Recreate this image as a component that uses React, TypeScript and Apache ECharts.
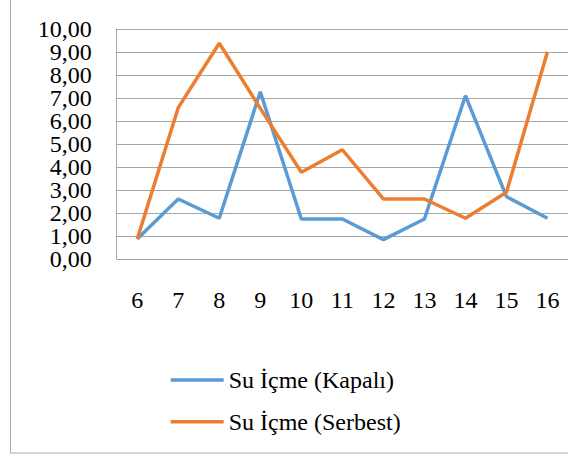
import React, { useEffect, useRef } from "react";
import * as echarts from "echarts";

const categories = ["6", "7", "8", "9", "10", "11", "12", "13", "14", "15", "16"];
const kapali = [0.87, 2.61, 1.77, 7.27, 1.74, 1.74, 0.84, 1.74, 7.1, 2.71, 1.77];
const serbest = [0.87, 6.58, 9.38, 6.55, 3.77, 4.75, 2.61, 2.61, 1.77, 2.9, 9.01];
const seriesNames = ["Su İçme (Kapalı)", "Su İçme (Serbest)"];
const yTicks = [0, 1, 2, 3, 4, 5, 6, 7, 8, 9, 10];
const yTickLabels = ["0,00", "1,00", "2,00", "3,00", "4,00", "5,00", "6,00", "7,00", "8,00", "9,00", "10,00"];

export default function App() {
  const ref = useRef<HTMLDivElement>(null);
  useEffect(() => {
    if (!ref.current) return;
    const chart = echarts.init(ref.current, null, { renderer: "svg" });
    const font = "Liberation Serif";
    const gridLeft = 116.7;
    const border = {
      id: "border",
      type: "rect",
      shape: { x: 10.5, y: -10, width: 600, height: 463 },
      style: { fill: "none", stroke: "#A6A6A6", lineWidth: 1 },
      silent: true,
    };
    chart.setOption({
      animation: false,
      backgroundColor: "#ffffff",
      graphic: [border],
      grid: { left: gridLeft, top: 29, width: 457.6, bottom: 198 },
      xAxis: {
        type: "category",
        data: categories,
        boundaryGap: true,
        axisLine: { show: false },
        axisTick: { show: false },
        axisLabel: { color: "#000", fontFamily: font, fontSize: 24, margin: 29, interval: 0 },
      },
      yAxis: {
        type: "value",
        min: yTicks[0],
        max: yTicks[yTicks.length - 1],
        interval: 1,
        axisLine: { show: true, lineStyle: { color: "#A6A6A6", width: 1 } },
        axisTick: { show: false },
        splitLine: { lineStyle: { color: "#A6A6A6", width: 1 } },
        axisLabel: { show: false },
      },
      legend: {
        orient: "vertical",
        left: 170.7,
        top: 368,
        padding: 0,
        icon: "rect",
        itemWidth: 53,
        itemHeight: 3.5,
        itemGap: 17.7,
        textStyle: { color: "#000", fontFamily: font, fontSize: 24 },
        data: seriesNames,
      },
      series: [
        {
          name: seriesNames[0],
          type: "line",
          data: kapali,
          showSymbol: false,
          symbol: "none",
          itemStyle: { color: "#5B9BD5" },
          lineStyle: { color: "#5B9BD5", width: 3.5 },
        },
        {
          name: seriesNames[1],
          type: "line",
          data: serbest,
          showSymbol: false,
          symbol: "none",
          itemStyle: { color: "#ED7D31" },
          lineStyle: { color: "#ED7D31", width: 3.5 },
        },
      ],
    });

    const labelEls = yTicks.map((v, i) => {
      const py = chart.convertToPixel({ yAxisIndex: 0 }, v) as number;
      return {
        id: "ylab" + i,
        type: "text",
        x: gridLeft - 25,
        y: py,
        silent: true,
        style: {
          text: yTickLabels[i],
          fontFamily: font,
          fontSize: 24,
          lineHeight: 20,
          fill: "#000",
          align: "right",
          verticalAlign: "middle",
        },
      };
    });
    chart.setOption({ graphic: [border, ...labelEls] });

    return () => chart.dispose();
  }, []);
  return (
    <div
      ref={ref}
      style={{ position: "fixed", left: 0, top: 0, width: 568, height: 457 }}
    />
  );
}
